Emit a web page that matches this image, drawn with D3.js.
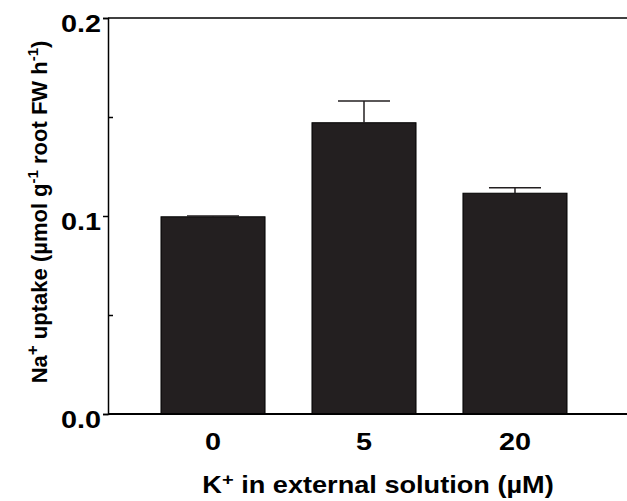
<!DOCTYPE html>
<html>
<head>
<meta charset="utf-8">
<script src="https://cdn.jsdelivr.net/npm/d3@7"></script>
<style>
  body { margin: 0; background: #fff; }
  text { font-family: "Liberation Sans", Arial, sans-serif; font-weight: bold; fill: #000; }
</style>
</head>
<body>
<div id="chart"></div>
<script>
var categories = ["0", "5", "20"];
var uptake = [0.0996, 0.1471, 0.1115];
var errors = [0.0004, 0.0110, 0.0028];
var majorTicks = [0, 0.1, 0.2];
var minorTicks = [0.05, 0.15];

var W = 627, H = 501;
var margin = { top: 18, right: 7, bottom: 87, left: 108 };
var stretch = 1.2; // glyphs in the picture are wider than Arial

var svg = d3.select("#chart").append("svg")
    .attr("width", W).attr("height", H);

var xScale = d3.scaleBand().domain(categories)
    .range([margin.left, 620])
    .paddingInner(0.311).paddingOuter(0.351);
var yScale = d3.scaleLinear().domain([0, 0.2]).range([H - margin.bottom, margin.top]);

// bars
svg.selectAll("rect.bar").data(categories).enter().append("rect")
    .attr("class", "bar")
    .attr("x", function(d) { return xScale(d); })
    .attr("y", function(d, i) { return yScale(uptake[i]); })
    .attr("width", xScale.bandwidth())
    .attr("height", function(d, i) { return yScale(0) - yScale(uptake[i]); })
    .attr("fill", "#231f20")
    .attr("stroke", "#000").attr("stroke-width", 1);

// error bars (upper only)
var eb = svg.selectAll("g.err").data(categories).enter().append("g").attr("class", "err");
eb.append("line")
    .attr("x1", function(d) { return xScale(d) + xScale.bandwidth() / 2; })
    .attr("x2", function(d) { return xScale(d) + xScale.bandwidth() / 2; })
    .attr("y1", function(d, i) { return yScale(uptake[i]); })
    .attr("y2", function(d, i) { return yScale(uptake[i] + errors[i]); })
    .attr("stroke", "#231f20").attr("stroke-width", 1.5);
eb.append("line")
    .attr("x1", function(d) { return xScale(d) + xScale.bandwidth() / 4; })
    .attr("x2", function(d) { return xScale(d) + xScale.bandwidth() * 3 / 4; })
    .attr("y1", function(d, i) { return yScale(uptake[i] + errors[i]); })
    .attr("y2", function(d, i) { return yScale(uptake[i] + errors[i]); })
    .attr("stroke", "#231f20").attr("stroke-width", 1.5);

// frame: left, top and bottom lines (right side runs off the picture)
svg.append("line").attr("x1", margin.left).attr("x2", W)
    .attr("y1", yScale(0.2)).attr("y2", yScale(0.2))
    .attr("stroke", "#000").attr("stroke-width", 1.5);
svg.append("line").attr("x1", margin.left).attr("x2", W)
    .attr("y1", yScale(0)).attr("y2", yScale(0))
    .attr("stroke", "#000").attr("stroke-width", 2);

var yAxis = svg.append("g")
    .attr("transform", "translate(" + margin.left + ",0)")
    .call(d3.axisLeft(yScale).tickValues(majorTicks).tickSize(5).tickFormat(d3.format(".1f")));
yAxis.select(".domain").attr("stroke-width", 1.5);
yAxis.selectAll(".tick line").attr("stroke-width", 1.5);
yAxis.selectAll(".tick text")
    .attr("font-size", 24)
    .attr("x", -7 / stretch)
    .attr("dy", 13)
    .attr("transform", "scale(" + stretch + ",1)");

svg.append("g")
    .attr("transform", "translate(" + margin.left + ",0)")
    .call(d3.axisRight(yScale).tickValues(minorTicks).tickSize(5).tickFormat(""))
    .call(function(g) { g.select(".domain").remove(); })
    .selectAll(".tick line").attr("stroke-width", 1.5);

// category labels
svg.selectAll("text.cat").data(categories).enter().append("text")
    .attr("class", "cat")
    .attr("transform", function(d) {
      return "translate(" + (xScale(d) + xScale.bandwidth() / 2) + ",450) scale(" + stretch + ",1)";
    })
    .attr("text-anchor", "middle")
    .attr("font-size", 24)
    .text(function(d) { return d; });

// x title
var xt = svg.append("text")
    .attr("transform", "translate(378,493) scale(1.18,1)")
    .attr("text-anchor", "middle")
    .attr("font-size", 23);
xt.append("tspan").text("K");
xt.append("tspan").attr("font-size", 17).attr("dy", -8).text("+");
xt.append("tspan").attr("dy", 8).text(" in external solution (\u00b5M)");

// y title
var yt = svg.append("text")
    .attr("transform", "translate(47,212) rotate(-90)")
    .attr("text-anchor", "middle")
    .attr("font-size", 22);
yt.append("tspan").text("Na");
yt.append("tspan").attr("font-size", 17).attr("dy", -9).text("+");
yt.append("tspan").attr("dy", 9).text(" uptake (\u00b5mol g");
yt.append("tspan").attr("font-size", 15).attr("dy", -9).text("-1");
yt.append("tspan").attr("dy", 9).text(" root FW h");
yt.append("tspan").attr("font-size", 15).attr("dy", -9).text("-1");
yt.append("tspan").attr("dy", 9).text(")");
</script>
</body>
</html>
